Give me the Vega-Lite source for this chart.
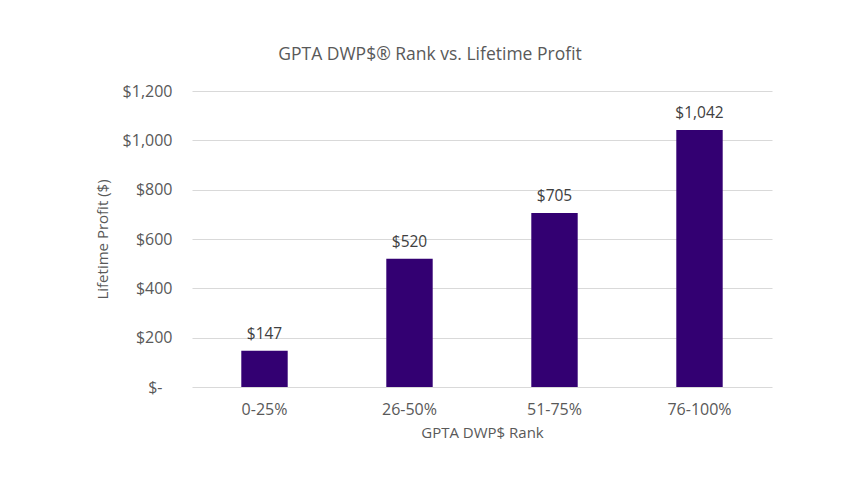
{
  "$schema": "https://vega.github.io/schema/vega-lite/v6.json",
  "width": 580,
  "height": 296,
  "autosize": "none",
  "padding": {"left": 192, "top": 91, "right": 92, "bottom": 117},
  "background": "white",
  "title": {
    "text": "GPTA DWP$® Rank vs. Lifetime Profit",
    "fontSize": 17.5,
    "font": "Open Sans",
    "fontWeight": "normal",
    "color": "#595959",
    "anchor": "middle",
    "dx": -52,
    "offset": 20
  },
  "data": {
    "values": [
      {"rank": "0-25%", "profit": 147},
      {"rank": "26-50%", "profit": 520},
      {"rank": "51-75%", "profit": 705},
      {"rank": "76-100%", "profit": 1042}
    ]
  },
  "encoding": {
    "x": {
      "field": "rank",
      "type": "nominal",
      "sort": null,
      "title": "GPTA DWP$ Rank",
      "scale": {"paddingInner": 0.68, "paddingOuter": 0.34},
      "axis": {
        "labelAngle": 0,
        "domain": false,
        "ticks": false,
        "labelPadding": 14,
        "titlePadding": 8
      }
    },
    "y": {
      "field": "profit",
      "type": "quantitative",
      "title": "Lifetime Profit ($)",
      "scale": {"domain": [0, 1200]},
      "axis": {
        "values": [0, 200, 400, 600, 800, 1000, 1200],
        "labelExpr": "datum.value == 0 ? '$-' : '$' + format(datum.value, ',')",
        "domain": false,
        "ticks": false,
        "labelPadding": {"condition": {"test": "datum.value == 0", "value": 30}, "value": 20},
        "titlePadding": 12
      }
    }
  },
  "layer": [
    {"mark": {"type": "bar", "color": "#330072"}},
    {
      "mark": {"type": "text", "dy": -12, "baseline": "alphabetic", "fontSize": 15.5, "font": "Open Sans", "color": "#404040"},
      "encoding": {
        "text": {"field": "profit", "type": "quantitative", "format": "$,.0f"}
      }
    }
  ],
  "config": {
    "view": {"stroke": null},
    "axis": {
      "labelFont": "Open Sans",
      "titleFont": "Open Sans",
      "labelFontSize": 16,
      "titleFontSize": 15,
      "titleFontWeight": "normal",
      "labelColor": "#595959",
      "titleColor": "#595959",
      "gridColor": "#d9d9d9"
    }
  }
}
